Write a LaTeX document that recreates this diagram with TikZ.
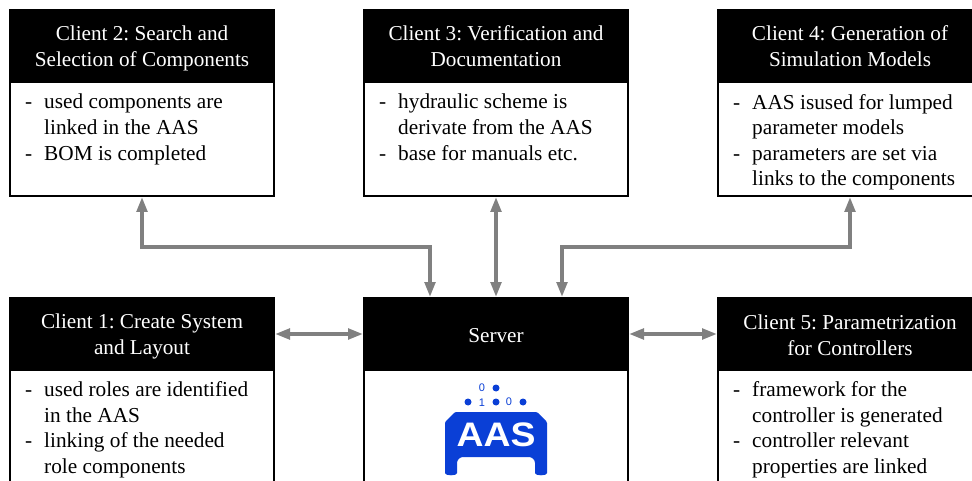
\documentclass[tikz,border=0pt]{standalone}
\usepackage{fontspec}
\setmainfont{Liberation Serif}
\newfontfamily\logofont{Liberation Sans}
\usetikzlibrary{arrows.meta}
\frenchspacing
\newcommand{\di}{\makebox[19pt][l]{-}}
\newcommand{\dc}{\hspace*{19pt}}
\newcommand{\hd}[2]{\rule{0pt}{20pt}#1\\#2\rule[-4pt]{0pt}{4pt}}
\definecolor{aasblue}{HTML}{0A3FD6}
\tikzset{
  clientbox/.style={draw=black,line width=2pt,fill=white,minimum width=264pt,inner sep=0pt,anchor=north west},
  headbox/.style={draw=black,line width=1pt,fill=black,text=white,minimum width=265pt,minimum height=73pt,inner sep=0pt,anchor=north west,align=center,font=\fontsize{21.2pt}{26pt}\selectfont},
  bodytext/.style={anchor=north west,inner sep=0pt,align=left,font=\fontsize{21.3pt}{25.6pt}\selectfont},
  conn/.style={draw=black!50,line width=3.6pt,{Triangle[length=15pt,width=10.5pt]}-{Triangle[length=15pt,width=10.5pt]}},
  bit/.style={text=aasblue,inner sep=0pt,font=\logofont\fontsize{11pt}{11pt}\selectfont},
  aasdot/.style={circle,fill=aasblue,inner sep=0pt,minimum size=7pt}
}
\begin{document}
\begin{tikzpicture}[x=1pt,y=-1pt]
\useasboundingbox (0,0) rectangle (972,481);
\clip (0,0) rectangle (972,481);
\fill[white] (0,0) rectangle (972,481);
% upper row
\node[clientbox,minimum height=186pt] (c2) at (9,9) {};
\node[clientbox,minimum height=186pt] (c3) at (363,9) {};
\node[clientbox,minimum height=186pt] (c4) at (717,9) {};
\node[headbox] (h2) at (9,9) {\hd{Client 2: Search and}{Selection of Components}};
\node[headbox] (h3) at (363,9) {\hd{Client 3: Verification and}{Documentation}};
\node[headbox] (h4) at (717,9) {\hd{Client 4: Generation of}{Simulation Models}};
\node[bodytext] (t2) at (25,94) {\di used components are\\\dc linked in the AAS\\\di BOM is completed};
\node[bodytext] (t3) at (379,94) {\di hydraulic scheme is\\\dc derivate from the AAS\\\di base for manuals etc.};
\node[bodytext] (t4) at (733,94) {\di AAS isused for lumped\\\dc parameter models\\\di parameters are set via\\\dc links to the components};
% lower row
\node[clientbox,minimum height=230pt] (c1) at (9,297) {};
\node[clientbox,minimum height=230pt] (s) at (363,297) {};
\node[clientbox,minimum height=230pt] (c5) at (717,297) {};
\node[headbox] (h1) at (9,297) {\hd{Client 1: Create System}{and Layout}};
\node[headbox] (hs) at (363,297) {\rule[-4pt]{0pt}{24pt}Server};
\node[headbox] (h5) at (717,297) {\hd{Client 5: Parametrization}{for Controllers}};
\node[bodytext] (t1) at (25,381.5) {\di used roles are identified\\\dc in the AAS\\\di linking of the needed\\\dc role components};
\node[bodytext] (t5) at (733,381.5) {\di framework for the\\\dc controller is generated\\\di controller relevant\\\dc properties are linked};
% connectors
\coordinate (sa) at ([xshift=-66pt]hs.north);
\coordinate (sc) at ([xshift=66pt]hs.north);
\draw[conn] (c2.south) -- ++(0,50) -| (sa);
\draw[conn] (c3.south) -- (hs.north);
\draw[conn] (c4.south) -- ++(0,50) -| (sc);
\draw[conn] (h1.east) -- (hs.west);
\draw[conn] (hs.east) -- (h5.west);
% logo
\fill[aasblue,rounded corners=1.2pt] (445,472) -- (445,422) -- (455,412) -- (537,412) -- (547,422) -- (547,472)
  .. controls (547,476) and (535,476) .. (535,472) -- (535,464)
  .. controls (535,460) and (532,457) .. (528,457) -- (464,457)
  .. controls (460,457) and (457,460) .. (457,464) -- (457,472)
  .. controls (457,476) and (445,476) .. (445,472) -- cycle;
\node[text=white,inner sep=0pt,font=\logofont\bfseries\fontsize{34pt}{34pt}\selectfont,xscale=1.1] (aas) at (496,435) {AAS};
\node[aasdot] (d1) at (468,402) {};
\node[aasdot] (d2) at (496,402) {};
\node[aasdot] (d3) at (523,402) {};
\node[aasdot] (d4) at (496,388) {};
\node[bit] (b1) at (482,403) {1};
\node[bit] (b2) at (509,402) {0};
\node[bit] (b3) at (482,388) {0};
\end{tikzpicture}
\end{document}
